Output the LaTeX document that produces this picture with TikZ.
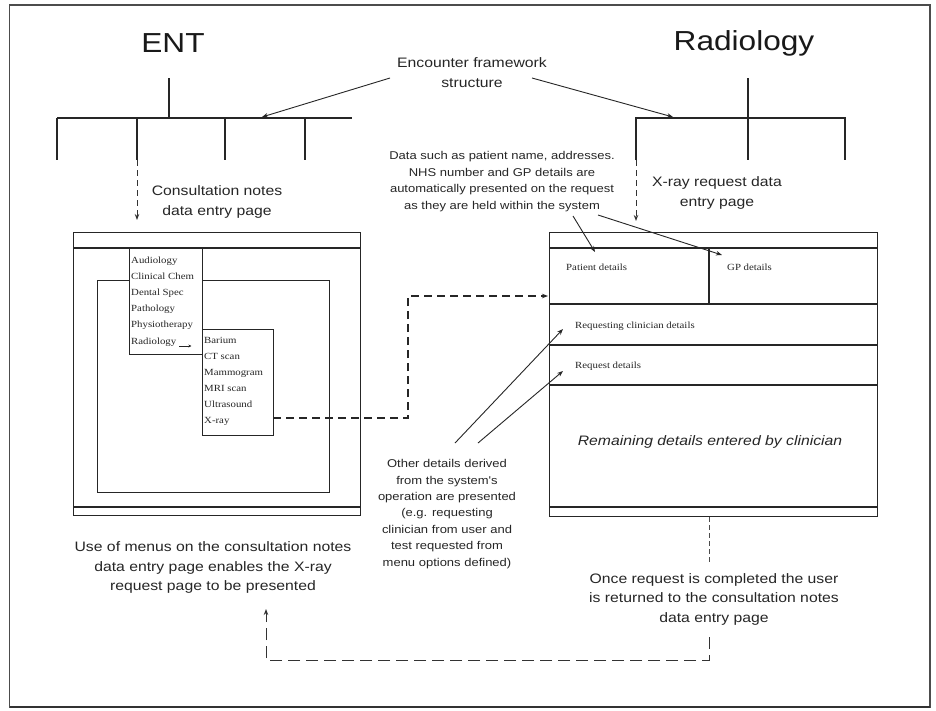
\documentclass[tikz,border=0pt]{standalone}
\usepackage{fontspec}
\setmainfont{Liberation Serif}
\newfontfamily\labelsans[FakeStretch=1.15]{Liberation Sans}
\newfontfamily\menuserif[FakeStretch=1.15]{Liberation Serif}
\usetikzlibrary{arrows.meta}

\tikzset{
  frameline/.style={draw=black!70, line width=1.2pt},
  treeline/.style={draw=black!85, line width=1.3pt},
  pagebox/.style={draw=black!85, line width=1.3pt, inner sep=0pt},
  boxline/.style={draw=black!85, line width=1.3pt},
  pointer/.style={-{Stealth[length=6pt,width=4.5pt]}},
  linkline/.style={draw=black!85, line width=0.9pt},
  dropdash/.style={draw=black!80, line width=1pt, dash pattern=on 6pt off 4pt},
  menudash/.style={draw=black!85, line width=1.2pt, dash pattern=on 8pt off 5pt},
  returndash/.style={draw=black!80, line width=1pt, dash pattern=on 12pt off 6pt},
  finedash/.style={draw=black!70, line width=0.8pt, dash pattern=on 5pt off 3pt},
  heading/.style={font=\labelsans\fontsize{27.5}{33}\selectfont, text=black!90, inner sep=0pt},
  caption/.style={font=\labelsans\fontsize{13.7}{19.5}\selectfont, text=black!85, align=center, inner sep=0pt},
  note/.style={font=\labelsans\fontsize{11.3}{16.4}\selectfont, text=black!85, align=center, inner sep=0pt},
  menuitem/.style={font=\menuserif\fontsize{9.4}{11}\selectfont, text=black!85, anchor=base west, inner sep=0pt},
}

\begin{document}
\begin{tikzpicture}[x=1pt, y=-1pt]
\useasboundingbox (0,0) rectangle (936,710);
\fill[white] (0,0) rectangle (936,710);

% outer frame
\draw[frameline] (9.5,5) rectangle (930,707);
\draw[black!80, line width=2.5pt] (9.5,707) -- (930,707);

% headings
\node[heading, anchor=base] (ent) at (173,52) {ENT};
\node[heading, anchor=base] (radiology) at (744,50) {Radiology};

% ENT encounter framework tree
\coordinate (entroot) at (169,78);
\coordinate (entbar) at (169,118);
\draw[treeline] (entroot) -- (entbar);
\draw[treeline] (57,118) -- (352,118);
\foreach \x in {57,137,225,305} \draw[treeline] (\x,118) -- (\x,160);

% Radiology encounter framework tree
\draw[treeline] (748,78) -- (748,160);
\draw[treeline] (636,160) -- (636,118) -- (845,118) -- (845,160);

% framework label with its pointers
\node[caption] (encounter) at (472,72.5) {Encounter framework\\structure};
\coordinate (encL) at (390,78);
\coordinate (encR) at (532,78);
\coordinate (entbarhit) at (262,117);
\coordinate (radbarhit) at (673,117);
\draw[linkline, pointer] (encL) -- (entbarhit);
\draw[linkline, pointer] (encR) -- (radbarhit);

% page captions
\node[caption] (consultcap) at (217,202) {Consultation notes\\data entry page};
\node[caption] (xraycap) at (717,193) {X-ray request data\\entry page};

% drops from the trees to the pages
\coordinate (entdrop) at (137,160);
\coordinate (entdroptip) at (137,220);
\coordinate (raddrop) at (636,160);
\coordinate (raddroptip) at (636,221);
\draw[dropdash, pointer] (entdrop) -- (entdroptip);
\draw[dropdash, pointer] (raddrop) -- (raddroptip);

% ---------- consultation notes page ----------
\node[pagebox, anchor=north west, minimum width=287pt, minimum height=283pt] (entpage) at (73,232) {};
\draw[boxline] (73,248) -- (360,248);
\draw[boxline] (73,507) -- (360,507);
\node[pagebox, anchor=north west, minimum width=232pt, minimum height=212pt] (workarea) at (97,280) {};

\node[pagebox, fill=white, anchor=north west, minimum width=73pt, minimum height=106pt] (deptmenu) at (129,248) {};
\foreach \t [count=\i from 0] in {Audiology, Clinical Chem, Dental Spec, Pathology, Physiotherapy, Radiology}
  \node[menuitem] (dept\i) at (131,{263.5+16.1*\i}) {\t};
\draw[black!85, line width=0.7pt, -{Stealth[length=3pt,width=3pt]}] ([xshift=3pt,yshift=-2pt]dept5.base east) -- ++(12,0);

\node[pagebox, fill=white, anchor=north west, minimum width=71pt, minimum height=106pt] (testmenu) at (202,329) {};
\foreach \t [count=\i from 0] in {Barium, CT scan, Mammogram, MRI scan, Ultrasound, X-ray}
  \node[menuitem] (test\i) at (204,{343.5+16*\i}) {\t};

% menu choice leads to the request page
\coordinate (xraytap) at (273,418);
\coordinate (bendlow) at (408,418);
\coordinate (bendhigh) at (408,296);
\coordinate (radentry) at (548,296);
\draw[menudash, pointer] (xraytap) -- (bendlow) -- (bendhigh) -- (radentry);

% ---------- X-ray request page ----------
\node[pagebox, anchor=north west, minimum width=328pt, minimum height=284pt] (radpage) at (549,232) {};
\draw[boxline] (549,248) -- (877,248);
\draw[boxline] (549,304) -- (877,304);
\draw[boxline] (549,345) -- (877,345);
\draw[boxline] (549,385) -- (877,385);
\draw[boxline] (549,507) -- (877,507);
\draw[boxline] (709,248) -- (709,304);

\node[menuitem] (patient) at (566,270.5) {Patient details};
\node[menuitem] (gp) at (727,270.5) {GP details};
\node[menuitem] (clinician) at (575,328.5) {Requesting clinician details};
\node[menuitem] (request) at (575,368.5) {Request details};
\node[caption, font=\labelsans\itshape\fontsize{13.7}{19.5}\selectfont] (remaining) at (710,442) {Remaining details entered by clinician};

% automatically presented data
\node[note] (autodata) at (502,181.5) {Data such as patient name, addresses.\\NHS number and GP details are\\automatically presented on the request\\as they are held within the system};
\coordinate (autoA) at (573,216);
\coordinate (autoB) at (598,215);
\coordinate (patienthit) at (595,252);
\coordinate (gphit) at (722,255);
\draw[linkline, pointer] (autoA) -- (patienthit);
\draw[linkline, pointer] (autoB) -- (gphit);

% derived details
\node[note] (derived) at (447,514) {Other details derived\\from the system's\\operation are presented\\(e.g. requesting\\clinician from user and\\test requested from\\menu options defined)};
\coordinate (derA) at (455,443);
\coordinate (derB) at (478,443);
\coordinate (clinhit) at (563,329);
\coordinate (reqhit) at (563,371);
\draw[linkline, pointer] (derA) -- (clinhit);
\draw[linkline, pointer] (derB) -- (reqhit);

% bottom captions
\node[caption] (menusnote) at (213,567.5) {Use of menus on the consultation notes\\data entry page enables the X-ray\\request page to be presented};
\node[caption] (returnnote) at (714,599) {Once request is completed the user\\is returned to the consultation notes\\data entry page};

% return path to the consultation notes page
\coordinate (retgap1) at (709,563);
\coordinate (retgap2) at (709,637);
\coordinate (retcorner) at (709,660);
\coordinate (retleft) at (266,660);
\coordinate (rettip) at (266,609);
\draw[finedash] (retgap1 |- radpage.south) -- (retgap1);
\draw[returndash, pointer] (retgap2) -- (retcorner) -- (retleft) -- (rettip);
\end{tikzpicture}
\end{document}
